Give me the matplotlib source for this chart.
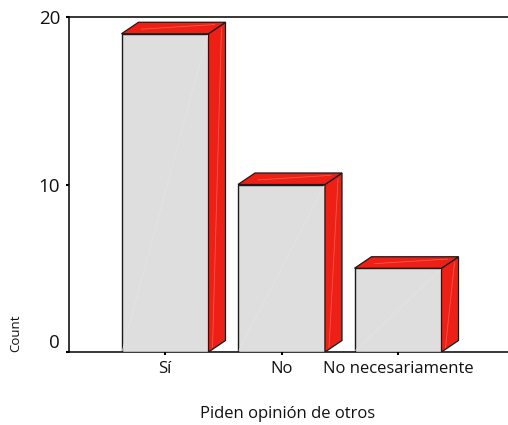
# -*- coding: utf-8 -*-
"""
Bar chart of "Piden opinion de otros" with fake 3D bars.
"""

import matplotlib
matplotlib.use("Agg")
import matplotlib.pyplot as plt
from matplotlib.patches import Polygon

# Data
categories = ["Sí", "No", "No necesariamente"]
counts = [19, 10, 5]
yticks = [0, 10, 20]

plt.rcParams["font.family"] = ["Open Sans", "DejaVu Sans"]

width, height = 508, 425
fig = plt.figure(figsize=(width / 100, height / 100), dpi=100)
# Axes box in pixels: x 68-508, y 17-352
ax = fig.add_axes([68.5 / width, 1 - 352 / height, (508 - 68.5) / width, (352 - 17) / height])
ax.set_xlim(0, 439.5)
ax.set_ylim(0, 20)

# Depth of the bars in x data units and in counts
depthX = 17
depthY = 11.5 * 20 / 335
barWidth = 87
centers = [96.5, 213, 329.5]
red = "#EE2015"
grey = "#DEDEDE"

for center, count in zip(centers, counts):
    x0 = center - barWidth / 2
    x1 = center + barWidth / 2
    ax.add_patch(Polygon([(x0, 0), (x1, 0), (x1, count), (x0, count)], facecolor=grey, edgecolor="#1A1A1A",
                         linewidth=1.0, zorder=3))
    ax.add_patch(Polygon([(x1, 0), (x1 + depthX, depthY), (x1 + depthX, count + depthY), (x1, count)], facecolor=red,
                         edgecolor="#1A1A1A", linewidth=0.9, zorder=3))
    ax.add_patch(Polygon([(x0, count), (x1, count), (x1 + depthX, count + depthY), (x0 + depthX, count + depthY)],
                         facecolor=red, edgecolor="#1A1A1A", linewidth=0.9, zorder=3))
    # Faint highlight lines of the original rendering
    ax.plot([x0 + 1, x1 - 1], [0.1, count - 0.1], color="#E4E4E4", linewidth=0.6, zorder=4)
    ax.plot([x1 + 4, x1 + depthX - 4], [depthY * 0.4, count + depthY * 0.5], color="#F4574C", linewidth=0.6, zorder=4)
    ax.plot([x0 + 20, x1 + 6], [count + depthY * 0.4, count + depthY * 0.8], color="#F4574C", linewidth=0.6, zorder=4)

ax.set_xticks(centers)
ax.set_xticklabels(categories, fontsize=12, color="#111111")
ax.set_yticks(yticks)
ax.set_yticklabels(yticks, fontsize=13.5, color="#111111")
ax.get_yticklabels()[0].set_va("bottom")
ax.tick_params(axis="x", length=2, width=1.5, pad=4.5)
ax.tick_params(axis="y", length=2, width=1.5, pad=4)
ax.spines["right"].set_visible(False)
for side in ["left", "top", "bottom"]:
    ax.spines[side].set_linewidth(1.1)

fig.text(288 / width, 1 - 414 / height, "Piden opinión de otros", fontsize=12, ha="center", va="center",
         color="#111111")
fig.text(16 / width, 1 - 333 / height, "Count", fontsize=9.5, rotation=90, ha="center", va="center", color="#111111")

fig.savefig("out.png", dpi=100)
